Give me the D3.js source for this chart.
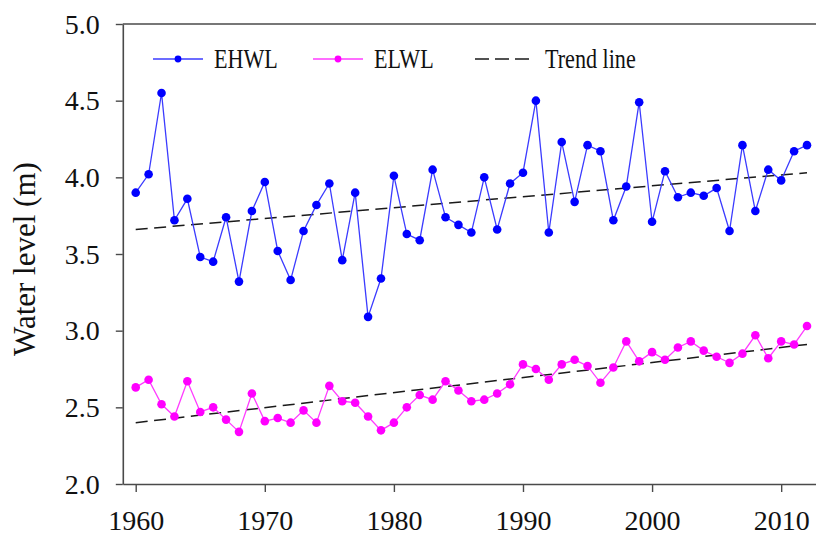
<!DOCTYPE html>
<html>
<head>
<meta charset="utf-8">
<script src="https://cdn.jsdelivr.net/npm/d3@7"></script>
<style>
    body { margin: 0; background: #fff; }
    svg { display: block; }
    text { font-family: "Liberation Serif", "Times New Roman", serif; fill: #111; }
</style>
</head>
<body>
<svg id="chart" width="816" height="534"></svg>
<script>
// # Data

var years = d3.range(1960, 2013);

// extreme high water level, m
var ehwl = [3.90, 4.02, 4.55, 3.72, 3.86, 3.48, 3.45, 3.74, 3.32, 3.78,
            3.97, 3.52, 3.33, 3.65, 3.82, 3.96, 3.46, 3.90, 3.09, 3.34,
            4.01, 3.63, 3.59, 4.05, 3.74, 3.69, 3.64, 4.00, 3.66, 3.96,
            4.03, 4.50, 3.64, 4.23, 3.84, 4.21, 4.17, 3.72, 3.94, 4.49,
            3.71, 4.04, 3.87, 3.90, 3.88, 3.93, 3.65, 4.21, 3.78, 4.05,
            3.98, 4.17, 4.21];

// extreme low water level, m
var elwl = [2.63, 2.68, 2.52, 2.44, 2.67, 2.47, 2.50, 2.42, 2.34, 2.59,
            2.41, 2.43, 2.40, 2.48, 2.40, 2.64, 2.54, 2.53, 2.44, 2.35,
            2.40, 2.50, 2.58, 2.55, 2.67, 2.61, 2.54, 2.55, 2.59, 2.65,
            2.78, 2.75, 2.68, 2.78, 2.81, 2.77, 2.66, 2.76, 2.93, 2.80,
            2.86, 2.81, 2.89, 2.93, 2.87, 2.83, 2.79, 2.85, 2.97, 2.82,
            2.93, 2.91, 3.03];

// trend line end points [1960, 2012]
var trendYears = [1960, 2012];
var trendHigh = [3.66, 4.03];
var trendLow = [2.40, 2.91];

var xTicks = [1960, 1970, 1980, 1990, 2000, 2010];
var yTicks = [2.0, 2.5, 3.0, 3.5, 4.0, 4.5, 5.0];

var legendItems = [
    {name: 'EHWL', kind: 'high'},
    {name: 'ELWL', kind: 'low'},
    {name: 'Trend line', kind: 'trend'}
];

// # Styles

var colors = {
    high: '#0000ff', highLine: '#3b3bff',
    low: '#ff00ff', lowLine: '#ff3cff',
    trend: '#1a1a1a', axis: '#4a4a4a'
};

// # Scales

var svg = d3.select('#chart');

var x = d3.scaleLinear().domain([1959, 2013]).range([122.8, 819.9]);
var y = d3.scaleLinear().domain([2, 5]).range([484, 24]);

// # Axes

var xAxis = svg.append('g')
    .attr('transform', 'translate(0,' + y(2) + ')')
    .call(d3.axisBottom(x).tickValues(xTicks).tickFormat(d3.format('d'))
        .tickSize(8).tickSizeOuter(0).tickPadding(18));

var yAxis = svg.append('g')
    .attr('transform', 'translate(' + x(1959) + ',0)')
    .call(d3.axisLeft(y).tickValues(yTicks).tickFormat(d3.format('.1f'))
        .tickSize(7).tickSizeOuter(0).tickPadding(16));

[xAxis, yAxis].forEach(function(ax){
    ax.select('.domain').attr('stroke', colors.axis).attr('stroke-width', 1.6);
    ax.selectAll('.tick line').attr('stroke', colors.axis).attr('stroke-width', 1.4);
    ax.selectAll('.tick text')
        .attr('font-family', '"Liberation Serif", "Times New Roman", serif')
        .attr('font-size', 28)
        .attr('fill', '#111');
});
yAxis.selectAll('.tick text').attr('dy', '0.33em');
xAxis.selectAll('.tick text').attr('dy', '0.71em');

// frame top line
svg.append('line')
    .attr('x1', x(1959)).attr('x2', x(2013))
    .attr('y1', y(5)).attr('y2', y(5))
    .attr('stroke', colors.axis).attr('stroke-width', 1.6);

// y label
svg.append('text')
    .attr('transform', 'translate(35,259) rotate(-90)')
    .attr('text-anchor', 'middle')
    .attr('font-size', 31)
    .text('Water level (m)');

// # Trend lines

var trendLine = d3.line()
    .x(function(d){ return x(d[0]); })
    .y(function(d){ return y(d[1]); });

[trendHigh, trendLow].forEach(function(t){
    svg.append('path')
        .datum(d3.zip(trendYears, t))
        .attr('d', trendLine)
        .attr('fill', 'none')
        .attr('stroke', colors.trend)
        .attr('stroke-width', 1.5)
        .attr('stroke-dasharray', '12,6.5');
});

// # Series

function drawSeries(values, lineColor, dotColor){
    var pts = d3.zip(years, values);
    svg.append('path')
        .datum(pts)
        .attr('d', trendLine)
        .attr('fill', 'none')
        .attr('stroke', lineColor)
        .attr('stroke-width', 1.3);

    svg.append('g').selectAll('circle')
        .data(pts)
        .join('circle')
        .attr('cx', function(d){ return x(d[0]); })
        .attr('cy', function(d){ return y(d[1]); })
        .attr('r', 4.3)
        .attr('fill', dotColor);
}

drawSeries(ehwl, colors.highLine, colors.high);
drawSeries(elwl, colors.lowLine, colors.low);

// # Legend

var legendX = [153, 313, 475];
var legendY = 59;

legendItems.forEach(function(item, i){
    var g = svg.append('g').attr('transform', 'translate(' + legendX[i] + ',' + legendY + ')');
    if (item.kind == 'trend'){
        g.append('line')
            .attr('x1', 0).attr('x2', 55)
            .attr('stroke', colors.trend).attr('stroke-width', 1.5)
            .attr('stroke-dasharray', '14,6');
    } else {
        g.append('line')
            .attr('x1', 0).attr('x2', 50)
            .attr('stroke', colors[item.kind + 'Line']).attr('stroke-width', 1.5);
        g.append('circle')
            .attr('cx', 25).attr('r', 3.4)
            .attr('fill', colors[item.kind]);
    }
    g.append('text')
        .attr('transform', 'translate(' + (item.kind == 'trend' ? 70 : 61) + ',9) scale(0.79,1)')
        .attr('font-size', 28)
        .text(item.name);
});
</script>
</body>
</html>
